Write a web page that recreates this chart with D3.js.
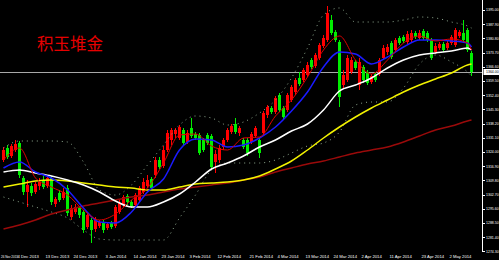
<!DOCTYPE html>
<html>
<head>
<meta charset="utf-8">
<script src="https://cdn.jsdelivr.net/npm/d3@7"></script>
<style>
  html, body { margin: 0; padding: 0; background: #000; }
  svg { display: block; }
</style>
</head>
<body>
<svg id="svg" width="499" height="260"></svg>
<script>
// chart data
var title = "积玉堆金";

var candleOpen = [1320,1326,1322,1325,1328.5,1311,1304,1307,1304,1307,1310,1307,1311,1298,1303.5,1301,1306,1291.5,1294,1296,
  1294,1286.5,1290,1285.5,1287,1289,1286,1288.5,1287,1294,1297.5,1302,1299,1297.5,1300,1304,1307,1310.5,1312.5,1320,
  1317,1325,1330,1333,1331,1335,1329,1336,1333,1332.5,1330,1332.5,1332,1319,1320,1326.5,1330,1334,1338,1333.5,
  1330,1330,1329,1332,1330,1333.5,1342.5,1346,1344,1352.5,1346,1345,1350,1354,1361,1360,1362.5,1370,1367,1371,
  1377,1380,1390,1384,1379,1357.5,1360,1364,1369,1357.5,1366.5,1364,1359,1363,1363,1371,1374,1378.5,1375,1381,
  1381.5,1379,1380,1383.5,1381,1384.5,1383.5,1380,1374,1376,1378,1376,1378.5,1377.5,1382,1383.5,1385,1373.5];
var candleHigh = [1326.5,1327.5,1328,1330,1329.5,1312,1310,1308.5,1309,1311,1312,1312.5,1312,1301.5,1305,1306,1307.5,1297.5,1298,1297,
  1295,1293.5,1291,1291.5,1290,1290,1289,1289.5,1297.5,1300,1302.5,1303,1300,1303.5,1307,1311,1312.5,1311.5,1321.5,1321.5,
  1327,1335,1336,1336,1337.5,1336,1335,1341,1334,1333.5,1331,1333.5,1333,1325,1327.5,1331,1336,1338,1341,1337,
  1331,1331,1334,1337,1331,1344.5,1347.5,1347,1352,1353.5,1347,1353.5,1357.5,1361,1364,1366,1369,1371,1373.5,1378.5,
  1382.5,1397,1392.5,1385,1380,1365,1372.5,1371.5,1370,1371,1367.5,1365,1363,1364,1371,1377.5,1378,1379.5,1381,1382,
  1382.5,1384.5,1385,1384.5,1385,1385.5,1384.5,1381,1378.5,1379,1379,1379.5,1382.5,1386,1385,1390,1386,1374.5];
var candleLow = [1319,1320.5,1321,1324,1311,1302.5,1296.5,1302,1303,1305,1305.5,1306,1297.5,1296.5,1299,1300,1292,1290,1293,1291,
  1283.5,1285.5,1278.5,1284,1286,1283.5,1285,1285.5,1286,1293,1296.5,1297.5,1296,1296,1299,1303,1306,1305,1311,1315.5,
  1316,1324,1327.5,1331,1330,1327.5,1328,1331,1330,1322.5,1324,1327.5,1315,1313.5,1318.5,1325,1329,1333,1333,1332,
  1325.5,1322,1328,1331,1321,1332.5,1341,1343,1343,1344,1340.5,1344,1349,1352.5,1357,1359,1361.5,1365.5,1366,1370,
  1376,1379,1382.5,1379,1346.5,1356,1359,1363,1365,1355,1358.5,1357.5,1358,1359,1362,1370,1372.5,1370.5,1374,1377.5,
  1378.5,1378,1379,1380.5,1380,1380,1379,1370,1373,1375,1374,1375,1377.5,1376.5,1381,1379,1374,1362];
var candleClose = [1325,1321.5,1327,1328,1312.5,1304,1307.5,1303.5,1308,1309,1306.5,1311,1299,1300.5,1300,1304,1293.5,1296,1296.5,1292.5,
  1285,1292.5,1285,1290,1289,1285,1288,1286.5,1296.5,1298.5,1301.5,1299,1297,1302.5,1306,1309,1310,1306,1320,1316.5,
  1325,1333.5,1335,1335,1336.5,1328.5,1333.5,1332,1331,1323.5,1325,1328.5,1316.5,1323,1326,1330,1335,1337,1334,1336,
  1326.5,1323.5,1333,1336,1323.5,1343.5,1346.5,1344,1351,1345,1341.5,1352.5,1356.5,1360,1358,1365,1367.5,1366.5,1372.5,1377.5,
  1381,1393.5,1383.5,1380,1351.5,1362.5,1371,1370,1366,1369,1360,1358.5,1362,1360,1370,1376,1376.5,1371.5,1380,1378.5,
  1379.5,1383,1383.5,1381.5,1383.5,1381,1380,1371,1377,1378,1375,1378.5,1381.5,1385,1384,1380,1375,1364];

// indicator lines, sampled at these candle indices
var lineIdx = [0,4,8,12,16,20,24,28,32,36,40,44,48,52,56,60,64,68,72,76,80,84,88,92,96,100,104,108,112,116,117];
var maFast = [1320,1326,1311,1306.5,1302.5,1295,1290,1293,1300,1306,1318.5,1332.5,1333,1327,1325,1331,1331.5,1342,1350,1361.5,
  1375,1382,1370,1363,1370,1378.5,1382,1379.5,1380.5,1378.5,1375];
var maBlue = [1316,1319,1314,1311,1305,1296,1289,1288.5,1294,1304,1310.5,1325,1330.5,1330,1326.5,1327.5,1331,1336.5,1344.5,1354,
  1366.5,1374,1373,1368,1371.5,1376.5,1380,1380,1379.5,1378.5,1376.5];
var maWhite = [1314,1315,1313.5,1312,1310,1307.5,1304,1299.5,1296.5,1296.5,1299,1303,1309,1315.5,1318.5,1322,1326.5,1330,1334.5,1338,
  1345,1354.5,1357.5,1361,1366,1370,1372.5,1373.5,1374.5,1376,1375];
var maYellow = [1306.5,1308,1309.5,1310,1309.5,1308.5,1307.5,1306.5,1306,1305,1305,1306.5,1308,1308.5,1309,1310,1312,1315.5,1319.5,1325,
  1331,1336.5,1341.5,1346,1350,1354,1357.5,1360.5,1363.5,1367.5,1368];
var maDarkRed = [1285.5,1287.5,1290,1293,1295,1297,1298.5,1300,1301.5,1302.5,1304,1305.5,1306.5,1307.5,1308.5,1310,1311.5,1314,1316,1318,
  1319.5,1321.5,1323.5,1325,1326.5,1329,1332,1335,1337,1339.5,1340];
var bandUpper = [1326,1329.5,1329.5,1329.5,1329,1319,1305,1302.5,1307.5,1317.5,1327.5,1337.5,1342,1341,1337.5,1339,1343.5,1350,1361,1376,
  1392.5,1396,1389,1389,1389,1390,1391.5,1391,1389,1387,1386];
var bandLower = [1301.5,1299,1296.5,1294,1291,1285,1280.5,1280,1280,1280,1280,1291,1302.5,1315,1318.5,1318.5,1318.5,1320,1323.5,1327,
  1328.5,1334,1347.5,1349,1349,1356,1368,1372.5,1369,1364,1362];

var lastPrice = 1364.00;
var priceTicks = [1395.00,1387.90,1380.80,1373.70,1366.60,1359.50,1352.40,1345.30,1338.20,1331.10,1324.00,1316.90,1309.80,1302.70,1295.60,1288.50,1281.40,1274.30];
var dateTickIdx = [0,4,11,18,26,33,40,47,54,62,69,76,83,90,97,105,112];
var dateTickLabels = ["26 Nov 2013","4 Dec 2013","13 Dec 2013","24 Dec 2013","3 Jan 2014","14 Jan 2014","23 Jan 2014","3 Feb 2014","12 Feb 2014",
  "21 Feb 2014","4 Mar 2014","13 Mar 2014","24 Mar 2014","2 Apr 2014","11 Apr 2014","23 Apr 2014","2 May 2014"];

var svg = d3.select("#svg");
var W = 499, H = 260, axisX = 482.5;

svg.append("rect").attr("width", W).attr("height", H).attr("fill", "#000");

var n = candleClose.length;
var x = d3.scaleLinear().domain([0, n - 1]).range([3.5, 3.5 + 4 * (n - 1)]);
var y = d3.scaleLinear().domain([1271, 1400]).range([258, 0]);

var candles = d3.range(n).map(function(i){
  return {i: i, o: candleOpen[i], h: candleHigh[i], l: candleLow[i], c: candleClose[i]};
});

// current price line
svg.append("line")
  .attr("x1", 0).attr("x2", axisX)
  .attr("y1", Math.round(y(lastPrice)) + 0.5).attr("y2", Math.round(y(lastPrice)) + 0.5)
  .attr("stroke", "#a8a8a8").attr("stroke-width", 1);

// title
svg.append("text")
  .attr("x", 37).attr("y", 50)
  .attr("font-family", "'Noto Sans CJK SC', sans-serif")
  .attr("font-size", 16.5)
  .attr("fill", "#e60000")
  .text(title);

// candles
var colorOf = function(d){ return d.c >= d.o ? "#ff0000" : "#00ee00"; };
var cg = svg.append("g");
cg.selectAll("line.wick").data(candles).enter().append("line")
  .attr("class", "wick")
  .attr("x1", function(d){ return x(d.i); }).attr("x2", function(d){ return x(d.i); })
  .attr("y1", function(d){ return y(d.h); }).attr("y2", function(d){ return y(d.l); })
  .attr("stroke", colorOf).attr("stroke-width", 1);
cg.selectAll("rect.body").data(candles).enter().append("rect")
  .attr("class", "body")
  .attr("x", function(d){ return x(d.i) - 1.5; })
  .attr("width", 3)
  .attr("y", function(d){ return y(Math.max(d.o, d.c)); })
  .attr("height", function(d){ return Math.max(1, Math.abs(y(d.o) - y(d.c))); })
  .attr("fill", colorOf);

// indicator lines
var lineGen = d3.line()
  .x(function(d, k){ return x(lineIdx[k]); })
  .y(function(d){ return y(d); })
  .curve(d3.curveMonotoneX);

function drawLine(values, color, width, dash){
  var p = svg.append("path")
    .attr("d", lineGen(values))
    .attr("fill", "none")
    .attr("stroke", color)
    .attr("stroke-width", width);
  if (dash) p.attr("stroke-dasharray", dash);
  return p;
}

drawLine(bandUpper, "#8fa88f", 1, "1,4");
drawLine(bandLower, "#8fa88f", 1, "1,4");
drawLine(maDarkRed, "#9a0a0a", 1.5);
drawLine(maYellow, "#f2f200", 1.5);
drawLine(maWhite, "#ffffff", 1.5);
drawLine(maBlue, "#1a1aff", 1.5);
drawLine(maFast, "#e00000", 1);

// right price axis
svg.append("rect").attr("x", axisX - 0.5).attr("y", 0).attr("width", W - axisX + 0.5).attr("height", H).attr("fill", "#000");
svg.append("line")
  .attr("x1", axisX).attr("x2", axisX).attr("y1", 0).attr("y2", 252)
  .attr("stroke", "#fff").attr("stroke-width", 1);

var yt = svg.append("g");
yt.selectAll("line").data(priceTicks).enter().append("line")
  .attr("x1", axisX).attr("x2", axisX + 2.5)
  .attr("y1", function(d){ return Math.round(y(d)) + 0.5; })
  .attr("y2", function(d){ return Math.round(y(d)) + 0.5; })
  .attr("stroke", "#fff");
yt.selectAll("text").data(priceTicks).enter().append("text")
  .attr("x", axisX + 3.5)
  .attr("y", function(d){ return y(d) + 1.4; })
  .attr("font-family", "'Liberation Sans', sans-serif")
  .attr("font-size", 3.5)
  .attr("fill", "#fff")
  .text(function(d){ return d.toFixed(2); });

// current price marker
var ly = y(lastPrice);
svg.append("rect")
  .attr("x", axisX + 1).attr("y", ly - 3).attr("width", W - axisX - 1).attr("height", 6)
  .attr("fill", "#fff");
svg.append("text")
  .attr("x", axisX + 3.5).attr("y", ly + 1.4)
  .attr("font-family", "'Liberation Sans', sans-serif")
  .attr("font-size", 3.5)
  .attr("fill", "#000")
  .text(lastPrice.toFixed(2));

// date axis
var xt = svg.append("g");
xt.selectAll("text").data(dateTickIdx).enter().append("text")
  .attr("x", function(d){ return d === 0 ? 1 : x(d) - 2; })
  .attr("y", 258)
  .attr("font-family", "'Liberation Sans', sans-serif")
  .attr("font-size", function(d){ return d === 0 ? 3 : 4.2; })
  .attr("fill", "#fff")
  .text(function(d, k){ return dateTickLabels[k]; });
</script>
</body>
</html>
